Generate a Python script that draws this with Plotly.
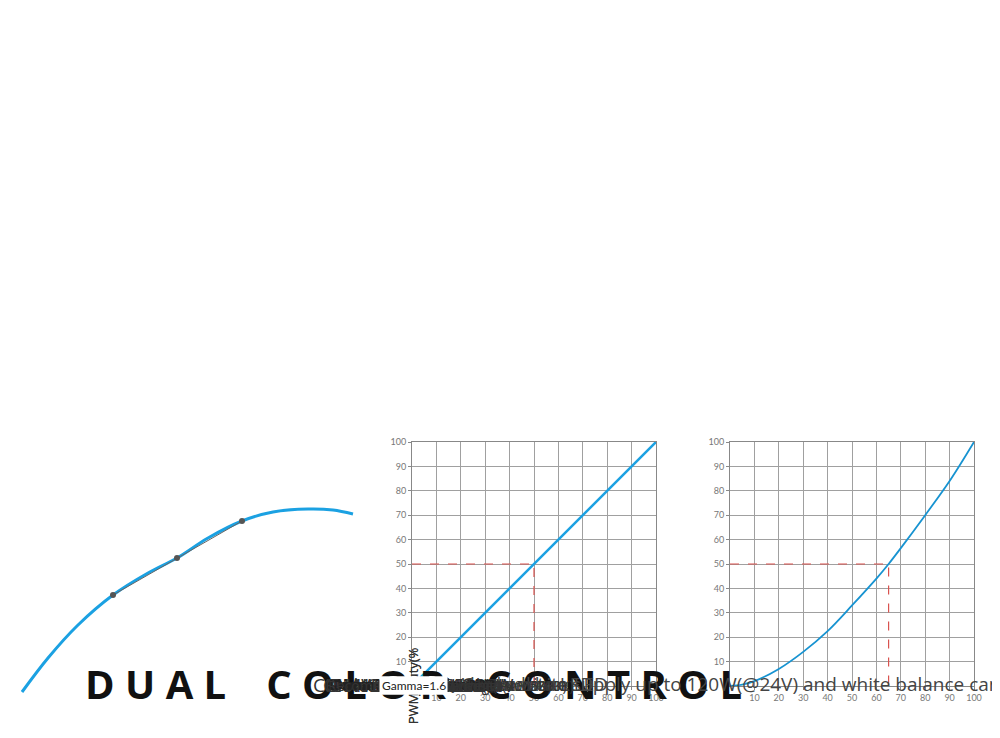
import plotly.graph_objects as go

# data
brightness = [0, 10, 20, 30, 40, 50, 60, 70, 80, 90, 100]
duty_cct = [0, 10, 20, 30, 40, 50, 60, 70, 80, 90, 100]
rgb_x = [0, 5, 10, 20, 30, 40, 50, 60, 65, 70, 80, 90, 100]
rgb_y = [0, 0.6, 2, 7, 14, 22.5, 33, 44, 50, 56.5, 70, 84, 100]
tuning_x = [14, 40, 70, 105, 140, 169, 200, 234, 265, 300, 325, 345]
tuning_y = [684, 650, 617, 587, 565, 550, 530, 513, 504, 501, 502, 506]
point_x = [105, 169, 234]
point_y = [587, 550, 513]
table_head = ["Color temperature", "Cool white", "Neutral white", "Warm white"]
table_row = ["Power distribution", "CH4=0W,CH5=120W", "CH4=120W,CH5=120W", "CH4=120W,CH5=0W"]
col_edges = [14, 232, 483, 734, 986]

W, H = 1000, 738
def px(x): return x / W
def py(y): return 1 - y / H

BLUE = "#1ba1e2"
fig = go.Figure()

# left panel curve (pixel space axis)
fig.add_trace(go.Scatter(x=tuning_x, y=tuning_y, mode="lines", line=dict(color=BLUE, width=3, shape="spline"),
                         xaxis="x3", yaxis="y3", hoverinfo="skip"))
fig.add_trace(go.Scatter(x=point_x, y=point_y, mode="lines+markers", line=dict(color="#666", width=1),
                         marker=dict(color="#555", size=6), xaxis="x3", yaxis="y3", hoverinfo="skip"))

# CCT
fig.add_trace(go.Scatter(x=brightness, y=duty_cct, mode="lines", line=dict(color=BLUE, width=2.5), xaxis="x", yaxis="y"))
fig.add_trace(go.Scatter(x=[0, 50, 50], y=[50, 50, 0], mode="lines", line=dict(color="#d9534f", width=1.2, dash="dash"), xaxis="x", yaxis="y"))
# RGB
fig.add_trace(go.Scatter(x=rgb_x, y=rgb_y, mode="lines", line=dict(color="#1793d1", width=1.8, shape="spline"), xaxis="x2", yaxis="y2"))
fig.add_trace(go.Scatter(x=[0, 65, 65], y=[50, 50, 0], mode="lines", line=dict(color="#d9534f", width=1.2, dash="dash"), xaxis="x2", yaxis="y2"))

tv = list(range(10, 101, 10))
def ax(d, anchor):
    return dict(domain=d, anchor=anchor, range=[0, 100], tickvals=tv, ticktext=[str(v) for v in tv],
                showgrid=True, gridcolor="#a0a0a0", gridwidth=1, automargin=False,
                showline=True, linecolor="#888", mirror=True, zeroline=False, ticks="outside", ticklen=3,
                tickcolor="#888", tickfont=dict(size=9, color="#777", family="Lato"), fixedrange=True)

fig.update_layout(
    width=W, height=H, margin=dict(l=0, r=0, t=0, b=0, autoexpand=False), showlegend=False,
    paper_bgcolor="white", plot_bgcolor="rgba(0,0,0,0)",
    xaxis=ax([px(404), px(648)], "y"),
    yaxis=ax([py(678), py(434)], "x"),
    xaxis2=ax([px(722), px(966)], "y2"),
    yaxis2=ax([py(678), py(434)], "x2"),
    xaxis3=dict(domain=[0, 1], range=[0, W], visible=False, fixedrange=True, automargin=False),
    yaxis3=dict(domain=[0, 1], range=[H, 0], visible=False, fixedrange=True, automargin=False, anchor="x3"),
)

shapes = [
    dict(type="rect", x0=0, x1=1, y0=py(107), y1=py(8), fillcolor="#bdbdbd", line_width=0, layer="below"),
    dict(type="rect", x0=px(14), x1=px(345), y0=py(718), y1=py(412), fillcolor="#f0f0f0", line_width=0, layer="below"),
    dict(type="rect", x0=px(361), x1=px(665), y0=py(718), y1=py(412), fillcolor="#f0f0f0", line_width=0, layer="below"),
    dict(type="rect", x0=px(681), x1=px(985), y0=py(718), y1=py(412), fillcolor="#f0f0f0", line_width=0, layer="below"),
    dict(type="rect", x0=px(404), x1=px(648), y0=py(678), y1=py(434), fillcolor="white", line_width=0, layer="below"),
    dict(type="rect", x0=px(722), x1=px(966), y0=py(678), y1=py(434), fillcolor="white", line_width=0, layer="below"),
    dict(type="rect", x0=px(14), x1=px(986), y0=py(350), y1=py(270), line=dict(color="#333", width=1)),
    dict(type="line", x0=px(14), x1=px(986), y0=py(310), y1=py(310), line=dict(color="#333", width=1)),
]
for e in col_edges[1:-1]:
    shapes.append(dict(type="line", x0=px(e), x1=px(e), y0=py(350), y1=py(270), line=dict(color="#333", width=1)))

anns = [
    dict(x=0.5, y=py(58), text="<b>D U A L\u2003C O L O R\u2003C O N T R O L</b>",
         font=dict(size=40, color="#111", family="Open Sans"), showarrow=False),
]
for i, t in enumerate(["CH4=Warm white LED", "CH5=Cool white LED",
                       "Each channel can supply up to 120W(@24V) and white balance can be controlled as such:"]):
    anns.append(dict(x=px(48), y=py(162 + 30 * i), text=t, xanchor="left", showarrow=False,
                     font=dict(size=19, color="#444", family="Open Sans")))
for i in range(4):
    cx = (col_edges[i] + col_edges[i + 1]) / 2
    anns.append(dict(x=px(cx), y=py(290), text=table_head[i], showarrow=False, font=dict(size=19, color="#333", family="Open Sans")))
    anns.append(dict(x=px(cx), y=py(329), text=table_row[i], showarrow=False, font=dict(size=19, color="#333", family="Open Sans")))
for cx, t in [(173, "Linear dual color tuning"), (515, "Dimming curve for CCT"), (833, "Dimming curve for RGB")]:
    anns.append(dict(x=px(cx), y=py(394), text="<b>" + t + "</b>", showarrow=False, font=dict(size=14, color="#222", family="Open Sans")))
for x, y, t, anc in [(56, 495, "Warm white(Min. 2700K)", "left"), (150, 572, "Neutral white(4000K)", "left"),
                     (92, 605, "Cool white(Max. 6500K)", "left"), (170, 698, "Recommended CCT range", "center")]:
    anns.append(dict(x=px(x), y=py(y), text=t, xanchor=anc, showarrow=False, font=dict(size=14, color="#333", family="Open Sans")))
for cx, gx in [(526, 521), (844, 843)]:
    anns.append(dict(x=px(cx), y=py(703), text="Brightness(%)", showarrow=False, font=dict(size=13, color="#333", family="Open Sans")))
for lx in [372, 692]:
    anns.append(dict(x=px(lx), y=py(556), text="PWM duty(%", textangle=-90, showarrow=False, font=dict(size=13, color="#333", family="Open Sans")))
anns.append(dict(x=px(521), y=py(447), text="Gamma=1.0", showarrow=False, bgcolor="white", font=dict(size=12, color="#222", family="Lato")))
anns.append(dict(x=px(843), y=py(447), text="Gamma=1.6", showarrow=False, bgcolor="white", font=dict(size=12, color="#222", family="Lato")))

fig.update_layout(shapes=shapes, annotations=anns)
fig.write_html("out.html")
